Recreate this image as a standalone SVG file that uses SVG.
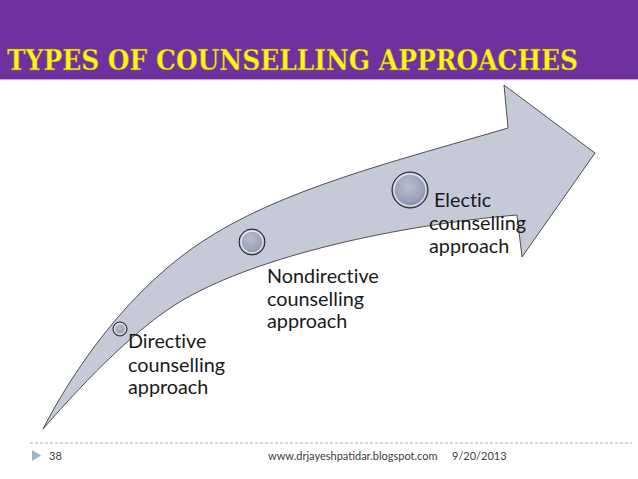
<svg xmlns="http://www.w3.org/2000/svg" width="638" height="479" viewBox="0 0 638 479">
<defs>
<radialGradient id="ball" cx="0.45" cy="0.4" r="0.6">
<stop offset="0" stop-color="#B9BDCF"/>
<stop offset="0.7" stop-color="#9CA1B9"/>
<stop offset="1" stop-color="#7E839D"/>
</radialGradient>
<style>
.lbl{font-family:"Lato","Liberation Sans",sans-serif;font-size:19.8px;fill:#1a1a1a;font-variant-ligatures:none}
.foot{font-family:"Lato","Liberation Sans",sans-serif;font-size:11px;fill:#404040}
.ball{fill:url(#ball);stroke:#1a1a1a;stroke-width:1}
.rim{fill:none;stroke:#ffffff;stroke-opacity:0.75;stroke-width:1.3}
</style>
</defs>
<rect x="0" y="0" width="638" height="479" fill="#ffffff"/>
<rect x="0" y="0" width="638" height="79" fill="#7030A0"/>
<rect x="0" y="79" width="638" height="1.2" fill="#C9A9DA"/>
<text x="7" y="70" font-family="'DejaVu Serif','Liberation Serif',serif" font-weight="bold" font-size="27" fill="#FFF21A" stroke="#8A7A10" stroke-width="0.4" textLength="571" lengthAdjust="spacingAndGlyphs">TYPES OF COUNSELLING APPROACHES</text>
<g id="arrow">
<path d="M43,429 C62,392 115,300 200,243 C280,189 400,160 508,128 L504,85 L595,153 L522,257 L517,215 C400,225 260,255 183,300 C140,325 90,375 43,429 Z" fill="#C6C9D8" stroke="#2a2a2a" stroke-width="0.8"/>
</g>
<g id="connectors"></g>
<g id="node-directive">
<circle class="ball" cx="120" cy="329" r="7"/>
<circle class="rim" cx="120" cy="329" r="5.5"/>
<text class="lbl"><tspan x="128" y="348">Directive</tspan><tspan x="128" y="372">counselling</tspan><tspan x="128" y="394">approach</tspan></text>
</g>
<g id="node-nondirective">
<circle class="ball" cx="252" cy="242" r="13"/>
<circle class="rim" cx="252" cy="242" r="11"/>
<text class="lbl"><tspan x="267" y="283">Nondirective</tspan><tspan x="267" y="306">counselling</tspan><tspan x="267" y="328">approach</tspan></text>
</g>
<g id="node-electic">
<circle class="ball" cx="410" cy="190" r="18"/>
<circle class="rim" cx="410" cy="190" r="16"/>
<text class="lbl"><tspan x="434" y="207">Electic</tspan><tspan x="429" y="230">counselling</tspan><tspan x="429" y="253">approach</tspan></text>
</g>
<g id="footer">
<line x1="30" y1="443" x2="632" y2="443" stroke="#A3B0C0" stroke-width="1" stroke-dasharray="3,2"/>
<polygon points="32,450 41,455.5 32,461" fill="#9DB3CC"/>
<text class="foot" x="49" y="460">38</text>
<text class="foot" x="268" y="460">www.drjayeshpatidar.blogspot.com</text>
<text class="foot" x="452" y="460">9/20/2013</text>
</g>
</svg>
